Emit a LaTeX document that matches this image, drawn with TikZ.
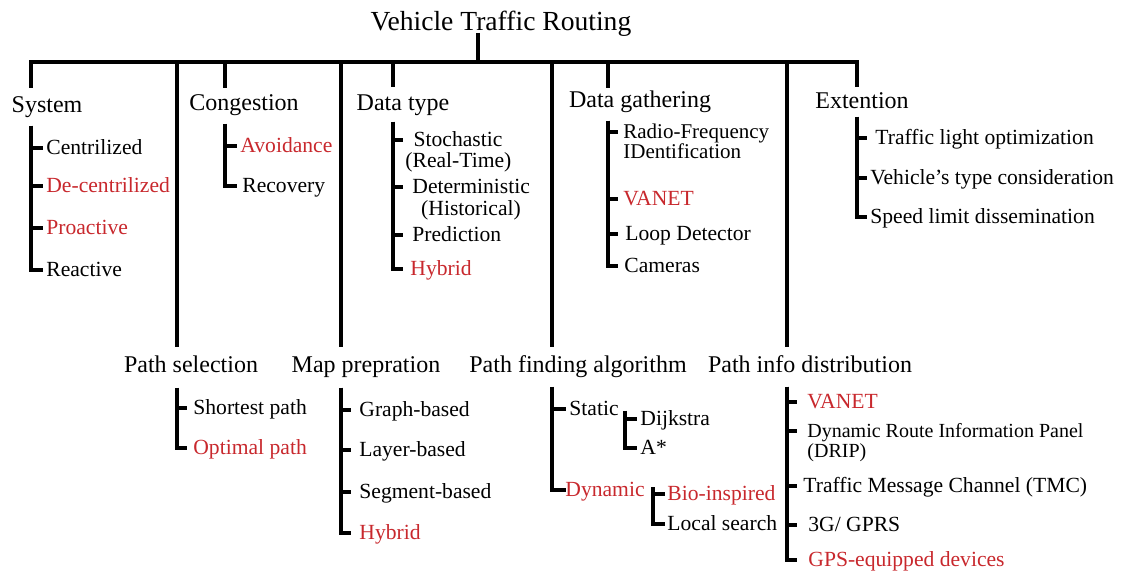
\documentclass[tikz,border=0pt]{standalone}
\usepackage{fontspec}
\setmainfont{Liberation Serif}
\definecolor{hl}{RGB}{200,40,45}
\begin{document}
\begin{tikzpicture}[x=0.5pt,y=-0.5pt,
  tree/.style={line width=1.6pt},
  head/.style={anchor=base,inner sep=0pt,font=\fontsize{12}{14}\selectfont},
  item/.style={anchor=west,inner xsep=0pt,text height=.85em,text depth=.2em,font=\fontsize{10.8}{12}\selectfont},
  hot/.style={item,text=hl}]
\useasboundingbox (0,0) rectangle (1133,576);
\node[head,font=\fontsize{13.8}{16}\selectfont] (title) at (501,31) {Vehicle Traffic Routing};
\coordinate (hubTop) at (478,33);
\coordinate (hub) at (478,62);
\coordinate (sysDrop) at (31,88);
\coordinate (cgDrop) at (225,88);
\coordinate (dtDrop) at (393,87);
\coordinate (dgDrop) at (608,88);
\coordinate (exDrop) at (857,87);
\coordinate (psDrop) at (177,347);
\coordinate (mpDrop) at (341,347);
\coordinate (pfDrop) at (552,347);
\coordinate (piDrop) at (787,347);
\draw[tree] (hubTop) -- (hub);
\draw[tree] (sysDrop) -- (sysDrop |- hub) -- (exDrop |- hub) -- (exDrop);
\foreach \c in {cgDrop,dtDrop,dgDrop,psDrop,mpDrop,pfDrop,piDrop}
	\draw[tree] (\c |- hub) -- (\c);
\node[head] (sysH) at (47,113) {System};
\node[head] (cgH) at (244,111) {Congestion};
\node[head] (dtH) at (403,111) {Data type};
\node[head] (dgH) at (640,108) {Data gathering};
\node[head] (exH) at (862,109) {Extention};
\node[head] (psH) at (191,372) {Path selection};
\node[head] (mpH) at (366,372) {Map prepration};
\node[head] (pfH) at (578,372) {Path finding algorithm};
\node[head] (piH) at (810,372) {Path info distribution};
% system
\coordinate (sys) at (31,126);
\coordinate (sysEnd) at (43,0);
\node[item] (sysA) at (46,148) {Centrilized};
\node[hot] (sysB) at (46,186) {De-centrilized};
\node[hot] (sysC) at (46,228) {Proactive};
\node[item] (sysD) at (46,270) {Reactive};
\foreach \n in {sysA,sysB,sysC,sysD}
	\draw[tree] (sys) |- (\n.west -| sysEnd);
% congestion
\coordinate (cg) at (225,124);
\coordinate (cgEnd) at (237,0);
\node[hot] (cgA) at (240,146) {Avoidance};
\node[item] (cgB) at (242,186) {Recovery};
\foreach \n in {cgA,cgB}
	\draw[tree] (cg) |- (\n.west -| cgEnd);
% data type
\coordinate (dt) at (393,122);
\coordinate (dtEnd) at (403,0);
\node[item,anchor=center] (dtA) at (458,140) {Stochastic};
\node[item] (dtA2) at (405,161) {(Real-Time)};
\node[item] (dtB) at (412,187) {Deterministic};
\node[item,anchor=center] (dtB2) at (471,209) {(Historical)};
\node[item] (dtC) at (412,235) {Prediction};
\node[hot] (dtD) at (410,269) {Hybrid};
\foreach \n in {dtA,dtB,dtC,dtD}
	\draw[tree] (dt) |- (\n.west -| dtEnd);
% data gathering
\coordinate (dg) at (608,121);
\coordinate (dgEnd) at (618,0);
\node[item,font=\fontsize{10.5}{12}\selectfont] (dgA) at (623,132) {Radio-Frequency};
\node[item,font=\fontsize{10.5}{12}\selectfont] (dgA2) at (623,152) {IDentification};
\node[hot] (dgB) at (623,199) {VANET};
\node[item] (dgC) at (625,234) {Loop Detector};
\node[item] (dgD) at (624,266) {Cameras};
\foreach \n in {dgA,dgB,dgC,dgD}
	\draw[tree] (dg) |- (\n.west -| dgEnd);
% extention
\coordinate (ex) at (857,117);
\coordinate (exEnd) at (867,0);
\node[item] (exA) at (875,138) {Traffic light optimization};
\node[item] (exB) at (870,178) {Vehicle’s type consideration};
\node[item] (exC) at (870,217) {Speed limit dissemination};
\foreach \n in {exA,exB,exC}
	\draw[tree] (ex) |- (\n.west -| exEnd);
% path selection
\coordinate (ps) at (177,388);
\coordinate (psEnd) at (187,0);
\node[item] (psA) at (193,408) {Shortest path};
\node[hot] (psB) at (193,448) {Optimal path};
\foreach \n in {psA,psB}
	\draw[tree] (ps) |- (\n.west -| psEnd);
% map prepration
\coordinate (mp) at (341,388);
\coordinate (mpEnd) at (351,0);
\node[item] (mpA) at (359,410) {Graph-based};
\node[item] (mpB) at (359,450) {Layer-based};
\node[item] (mpC) at (359,492) {Segment-based};
\node[hot] (mpD) at (359,533) {Hybrid};
\foreach \n in {mpA,mpB,mpC,mpD}
	\draw[tree] (mp) |- (\n.west -| mpEnd);
% path finding
\coordinate (pf) at (552,387);
\coordinate (pfEnd) at (566,0);
\node[item] (pfA) at (569,409) {Static};
\node[hot] (pfB) at (565,490) {Dynamic};
\foreach \n in {pfA,pfB}
	\draw[tree] (pf) |- (\n.west -| pfEnd);
\coordinate (st) at (625,411);
\coordinate (stEnd) at (637,0);
\node[item] (stA) at (640,419) {Dijkstra};
\node[item] (stB) at (640,448) {A*};
\foreach \n in {stA,stB}
	\draw[tree] (st) |- (\n.west -| stEnd);
\coordinate (dy) at (653,487);
\coordinate (dyEnd) at (665,0);
\node[hot] (dyA) at (667,494) {Bio-inspired};
\node[item] (dyB) at (667,524) {Local search};
\foreach \n in {dyA,dyB}
	\draw[tree] (dy) |- (\n.west -| dyEnd);
% path info
\coordinate (pi) at (787,387);
\coordinate (piEnd) at (797,0);
\node[hot] (piA) at (807,402) {VANET};
\node[item,font=\fontsize{10}{12}\selectfont] (piB) at (807,431) {Dynamic Route Information Panel};
\node[item,font=\fontsize{10}{12}\selectfont] (piB2) at (807,451) {(DRIP)};
\node[item] (piC) at (803,486) {Traffic Message Channel (TMC)};
\node[item] (piD) at (808,525) {3G/ GPRS};
\node[hot] (piE) at (808,560) {GPS-equipped devices};
\foreach \n in {piA,piB,piC,piD,piE}
	\draw[tree] (pi) |- (\n.west -| piEnd);
\end{tikzpicture}
\end{document}
